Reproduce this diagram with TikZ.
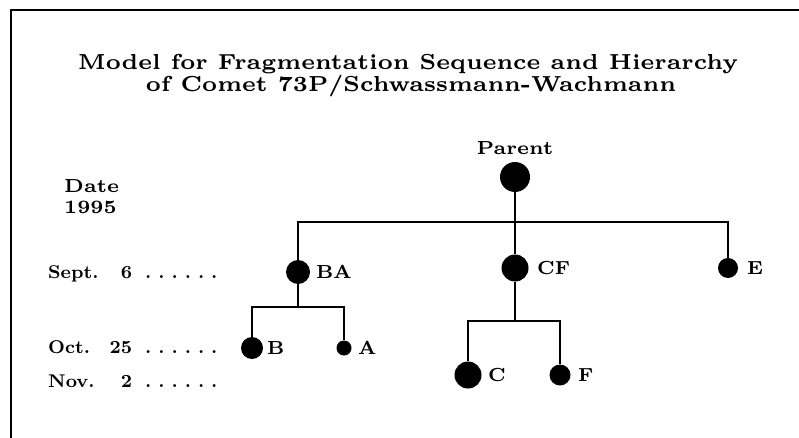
\documentclass[tikz,border=0pt]{standalone}
\usetikzlibrary{calc}
% bold text set at a given design size, then scaled up
\newcommand\boldat[3]{\scalebox{#2}{\fontsize{#1}{#1}\selectfont\bfseries #3}}
\newcommand\smallbold[1]{\boldat{6}{3.15}{#1}}
\newcommand\titlebold[1]{\boldat{6}{3.62}{#1}}
\newcommand\labelbold[1]{\boldat{8}{2.3}{#1}}
\newcommand\fragbold[1]{\boldat{7}{2.7}{#1}}
\newcommand\leaderdot{\makebox[13.2pt][l]{\labelbold{.}}}
\newcommand\dotrow{\leaderdot\leaderdot\leaderdot\leaderdot\leaderdot\labelbold{.}}
\begin{document}
\begin{tikzpicture}[x=1pt,y=-1pt,
  frame/.style={line width=2.2pt},
  link/.style={line width=1.8pt},
  frag/.style={circle,fill=black,draw=none,inner sep=0pt},
  fraglabel/.style={anchor=base west,inner sep=0pt},
  datelabel/.style={anchor=base west,inner sep=0pt},
  titletext/.style={anchor=base,inner sep=0pt}]
\useasboundingbox (0,0) rectangle (799,438);
\fill[white] (0,0) rectangle (799,438);

% outer frame (top and left edges)
\draw[frame] (11,438) -- (11,10) -- (799,10);

% title
\node[titletext] (t1) at (408,70) {\titlebold{Model for Fragmentation Sequence and Hierarchy}};
\node[titletext] (t2) at (411,92) {\titlebold{of Comet 73P/Schwassmann-Wachmann}};

% date column
\node[datelabel] (date) at (64,193) {\smallbold{Date}};
\node[datelabel] (year) at (64,213) {\smallbold{1995}};
\node[datelabel] (d1) at (48,278) {\rlap{\labelbold{Sept.}}\makebox[84pt][r]{\labelbold{6}}\hspace{13pt}\dotrow};
\node[datelabel] (d2) at (48,353) {\rlap{\labelbold{Oct.}}\makebox[84pt][r]{\labelbold{25}}\hspace{13pt}\dotrow};
\node[datelabel] (d3) at (48,387) {\rlap{\labelbold{Nov.}}\makebox[84pt][r]{\labelbold{2}}\hspace{13pt}\dotrow};

% fragments
\node[frag,minimum size=30pt] (P)  at (515,177) {};
\node[frag,minimum size=24pt] (BA) at (298,272) {};
\node[frag,minimum size=27pt] (CF) at (515,268) {};
\node[frag,minimum size=20pt] (E)  at (728,268) {};
\node[frag,minimum size=22pt] (B)  at (252,348) {};
\node[frag,minimum size=15pt] (A)  at (344,348) {};
\node[frag,minimum size=27pt] (C)  at (468,375) {};
\node[frag,minimum size=21pt] (F)  at (560,375) {};

% fragment names
\node[anchor=base,inner sep=0pt] (Pl) at (515,155) {\smallbold{Parent}};
\node[fraglabel] (BAl) at (316,278) {\fragbold{BA}};
\node[fraglabel] (CFl) at (537,274) {\fragbold{CF}};
\node[fraglabel] (El)  at (747,274) {\fragbold{E}};
\node[fraglabel] (Bl)  at (267,354) {\fragbold{B}};
\node[fraglabel] (Al)  at (358,354) {\fragbold{A}};
\node[fraglabel] (Cl)  at (488,381) {\fragbold{C}};
\node[fraglabel] (Fl)  at (578,381) {\fragbold{F}};

% branching points
\coordinate (j1) at (515,222);
\coordinate (j2) at (298,307);
\coordinate (j3) at (515,321);

% hierarchy links
\draw[link] (P.south) -- (j1) -- (CF.north);
\draw[link] (BA.north) -- (BA.north |- j1) -- (E.north |- j1) -- (E.north);
\draw[link] (BA.south) -- (j2);
\draw[link] (B.north) -- (B.north |- j2) -- (A.north |- j2) -- (A.north);
\draw[link] (CF.south) -- (j3);
\draw[link] (C.north) -- (C.north |- j3) -- (F.north |- j3) -- (F.north);
\end{tikzpicture}
\end{document}
